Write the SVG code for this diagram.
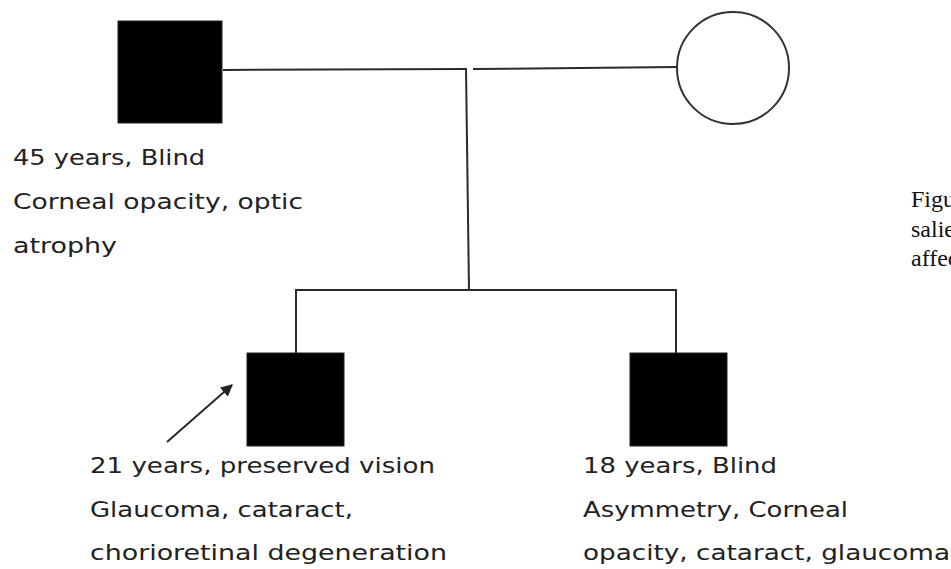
<svg xmlns="http://www.w3.org/2000/svg" width="951" height="569" viewBox="0 0 951 569">
<style>
.ln{stroke:#2a2a2a;stroke-width:2;fill:none}
.aff{fill:#000;stroke:#222;stroke-width:1}
.lbl{font-family:"DejaVu Sans","Open Sans",sans-serif;font-size:21px;fill:#222}
.cap{font-family:"Liberation Serif",serif;font-size:24px;fill:#111}
</style>
<defs>
<marker id="ah" viewBox="0 0 10 10" refX="9" refY="5" markerWidth="6" markerHeight="6" orient="auto" markerUnits="strokeWidth">
<path d="M0,0 L10,5 L0,10 z" fill="#222"/>
</marker>
</defs>
<rect width="951" height="569" fill="#fff"/>
<g id="connectors">
<polyline class="ln" points="223,70 465,69"/>
<polyline class="ln" points="473,69 677,67"/>
<polyline class="ln" points="466,68 469,290"/>
<polyline class="ln" points="296,353 296,290 676,290 676,353"/>
<line class="ln" x1="167" y1="442" x2="232" y2="385" marker-end="url(#ah)"/>
</g>
<g id="father">
<rect class="aff" x="118" y="21" width="104" height="102"/>
<text class="lbl" x="13" y="165" textLength="192" lengthAdjust="spacingAndGlyphs">45 years, Blind</text>
<text class="lbl" x="13" y="209" textLength="290" lengthAdjust="spacingAndGlyphs">Corneal opacity, optic</text>
<text class="lbl" x="13" y="253" textLength="104" lengthAdjust="spacingAndGlyphs">atrophy</text>
</g>
<g id="mother">
<circle cx="733" cy="68" r="56" fill="#fff" stroke="#333" stroke-width="2"/>
</g>
<g id="proband">
<rect class="aff" x="247" y="353" width="97" height="93"/>
<text class="lbl" x="90" y="473" textLength="345" lengthAdjust="spacingAndGlyphs">21 years, preserved vision</text>
<text class="lbl" x="90" y="517" textLength="263" lengthAdjust="spacingAndGlyphs">Glaucoma, cataract,</text>
<text class="lbl" x="90" y="560" textLength="357" lengthAdjust="spacingAndGlyphs">chorioretinal degeneration</text>
</g>
<g id="brother">
<rect class="aff" x="630" y="353" width="97" height="93"/>
<text class="lbl" x="583" y="473" textLength="194" lengthAdjust="spacingAndGlyphs">18 years, Blind</text>
<text class="lbl" x="583" y="517" textLength="265" lengthAdjust="spacingAndGlyphs">Asymmetry, Corneal</text>
<text class="lbl" x="583" y="560" textLength="367" lengthAdjust="spacingAndGlyphs">opacity, cataract, glaucoma</text>
</g>
<g id="caption">
<text class="cap" x="911" y="207">Figu</text>
<text class="cap" x="911" y="237">salie</text>
<text class="cap" x="911" y="266">affec</text>
</g>
</svg>
